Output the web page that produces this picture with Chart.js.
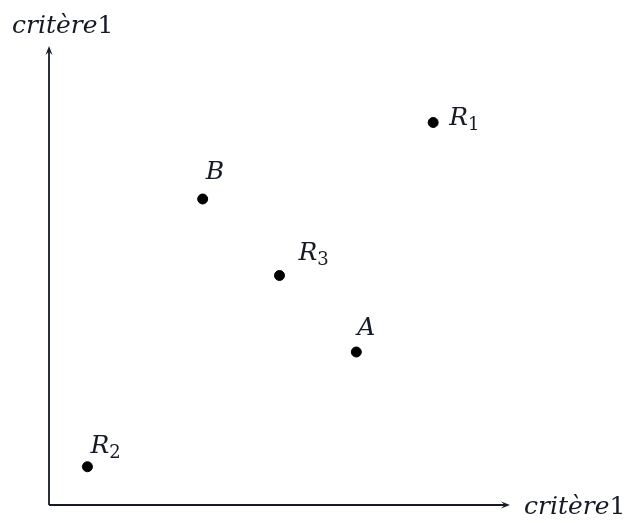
<!DOCTYPE html>
<html>
<head>
<meta charset="utf-8">
<script src="https://cdn.jsdelivr.net/npm/chart.js@4/dist/chart.umd.min.js"></script>
<style>
  html, body { margin: 0; padding: 0; background: #fff; }
  #wrap { width: 628px; height: 523px; position: relative; }
</style>
</head>
<body>
<div id="wrap"><canvas id="c"></canvas></div>
<script>
/* Scatter of points in the (critère1, critère1) plane */

const NAMES = ['R', 'B', 'R', 'A', 'R'];
const SUBS = ['1', '', '3', '', '2'];
const XS = [10, 4, 6, 8, 1];
const YS = [10, 8, 6, 4, 1];
const AXIS_MAX = 12;
const X_TITLE = 'critère';
const Y_TITLE = 'critère';
const TITLE_DIGIT = '1';

// label offsets from each point, in px
const LABEL_OFF = [[16, 2], [3, -20], [19, -16], [1, -17], [3, -14]];

const INK = '#151a26';
const ITALIC = 'italic 25px "DejaVu Serif"';
const ROMAN = '25px "DejaVu Serif"';
const SUB = '18px "DejaVu Serif"';

function drawMixed(ctx, x, y, parts) {
  parts.forEach(p => {
    ctx.font = p.font;
    ctx.fillText(p.text, x, y + (p.dy || 0));
    x += ctx.measureText(p.text).width + (p.gap || 0);
  });
}

function arrow(ctx, x0, y0, x1, y1) {
  const a = Math.atan2(y1 - y0, x1 - x0), L = 9, W = 3.5;
  ctx.beginPath(); ctx.moveTo(x0, y0); ctx.lineTo(x1 - Math.cos(a) * 4, y1 - Math.sin(a) * 4); ctx.stroke();
  ctx.beginPath();
  ctx.moveTo(x1, y1);
  ctx.lineTo(x1 - L * Math.cos(a) + W * Math.sin(a), y1 - L * Math.sin(a) - W * Math.cos(a));
  ctx.lineTo(x1 - L * 0.6 * Math.cos(a), y1 - L * 0.6 * Math.sin(a));
  ctx.lineTo(x1 - L * Math.cos(a) - W * Math.sin(a), y1 - L * Math.sin(a) + W * Math.cos(a));
  ctx.closePath(); ctx.fill();
}

const decor = {
  id: 'decor',
  beforeDatasetsDraw(chart) {
    const { ctx, chartArea: a } = chart;
    ctx.save();
    ctx.strokeStyle = INK; ctx.fillStyle = INK; ctx.lineWidth = 1.8;
    arrow(ctx, a.left, a.bottom, a.right, a.bottom);
    arrow(ctx, a.left, a.bottom, a.left, a.top);
    ctx.restore();
  },
  afterDatasetsDraw(chart) {
    const { ctx } = chart;
    const xs = chart.scales.x, ys = chart.scales.y;
    ctx.save();
    ctx.fillStyle = INK;
    ctx.textBaseline = 'alphabetic';
    drawMixed(ctx, 12, 33, [{ text: Y_TITLE, font: ITALIC, gap: 0 }, { text: TITLE_DIGIT, font: ROMAN }]);
    drawMixed(ctx, 524, 514, [{ text: X_TITLE, font: ITALIC, gap: 0 }, { text: TITLE_DIGIT, font: ROMAN }]);
    NAMES.forEach((n, i) => {
      const px = xs.getPixelForValue(XS[i]) + LABEL_OFF[i][0];
      const py = ys.getPixelForValue(YS[i]) + LABEL_OFF[i][1];
      const parts = [{ text: n, font: ITALIC, gap: 0 }];
      if (SUBS[i]) parts.push({ text: SUBS[i], font: SUB, dy: 5 });
      drawMixed(ctx, px, py, parts);
    });
    ctx.restore();
  }
};

new Chart(document.getElementById('c'), {
  type: 'scatter',
  data: {
    datasets: [{
      data: XS.map((x, i) => ({ x, y: YS[i] })),
      backgroundColor: '#000', borderColor: '#000',
      pointRadius: 5, pointHoverRadius: 5
    }]
  },
  options: {
    responsive: true, maintainAspectRatio: false, animation: false,
    layout: { padding: { left: 49, right: 118, top: 46, bottom: 18 } },
    plugins: { legend: { display: false }, tooltip: { enabled: false } },
    scales: {
      x: { display: false, min: 0, max: AXIS_MAX },
      y: { display: false, min: 0, max: AXIS_MAX }
    }
  },
  plugins: [decor]
});
</script>
</body>
</html>
